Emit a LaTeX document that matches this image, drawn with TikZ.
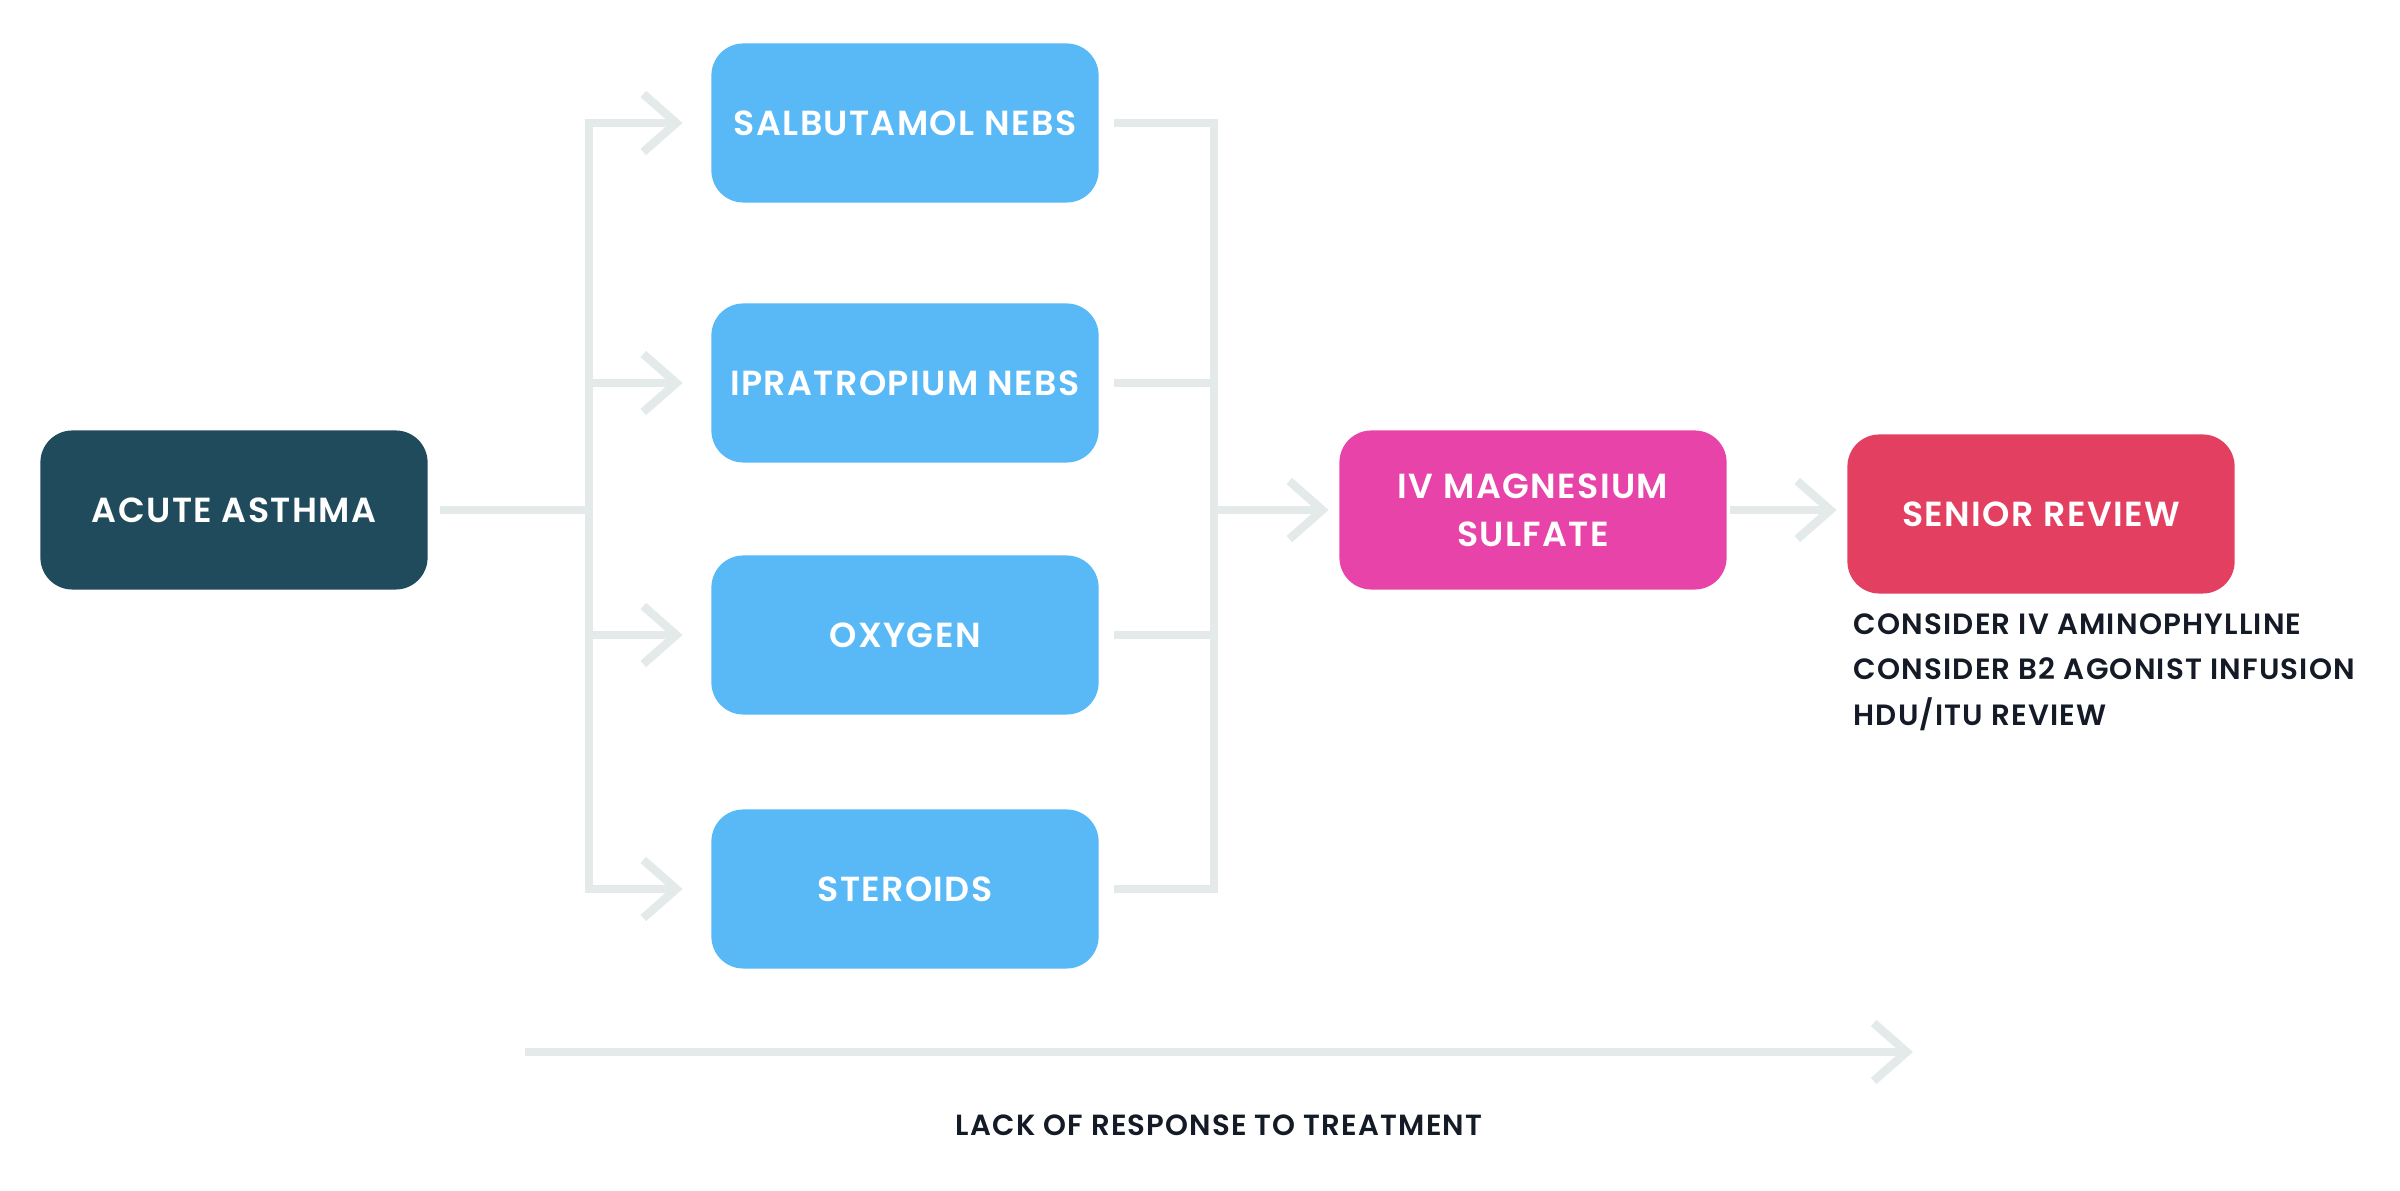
\documentclass[tikz,border=0pt]{standalone}
\usepackage{fontspec}
\setmainfont{Poppins}[LetterSpace=4, BoldFont={* SemiBold}]
\usepackage{tikz}
\usetikzlibrary{arrows.meta}
\definecolor{mydarkteal}{RGB}{31,75,92}
\definecolor{mylightblue}{RGB}{88,185,246}
\definecolor{mymagenta}{RGB}{232,67,169}
\definecolor{mydarkred}{RGB}{227,63,97}
\definecolor{mylinegray}{RGB}{228,234,234}
\definecolor{mydarktext}{RGB}{20,27,38}
\newcommand{\widthbox}{3.87cm}
\newcommand{\heightbox}{1.59cm}
\newcommand{\widthlink}{2.4pt}
\tikzset{
    box/.style={rectangle, rounded corners=0.32cm, minimum width=\widthbox, minimum height=\heightbox,
        inner sep=0pt, align=center, text=white, font=\bfseries\fontsize{9.9}{13.6}\selectfont},
    start/.style={box, fill=mydarkteal},
    drug/.style={box, fill=mylightblue},
    escalate/.style={box, fill=mymagenta},
    review/.style={box, fill=mydarkred},
    note/.style={anchor=west, inner sep=0pt, text=mydarktext, font=\bfseries\fontsize{8.35}{10}\selectfont},
    link/.style={draw=mylinegray, line width=\widthlink},
    bus/.style={link, line cap=rect},
    flow/.style={link, -{Straight Barb[length=3.3mm, width=5.8mm]}}
}

\begin{document}
\begin{tikzpicture}[x=0.01cm, y=0.01cm]
    \useasboundingbox (0,0) rectangle (2400,1191);

    \path
        (234,681) node[start] (asthma) {ACUTE ASTHMA};

    \path
        (905,1068) node[drug] (salbutamol) {SALBUTAMOL NEBS}
        to ++(270:260) node[drug] (ipratropium) {IPRATROPIUM NEBS}
        to ++(270:252) node[drug] (oxygen) {OXYGEN}
        to ++(270:254) node[drug] (steroids) {STEROIDS};

    \path
        (1533,681) node[escalate] (magnesium) {IV MAGNESIUM\\SULFATE}
        to ++(508,-4) node[review] (senior) {SENIOR REVIEW}
        to ++(-188,-110) node[note] (aminophylline) {CONSIDER IV AMINOPHYLLINE}
        to ++(270:45) node[note] (agonist) {CONSIDER B2 AGONIST INFUSION}
        to ++(270:45) node[note] (hdu) {HDU/ITU REVIEW};

    \coordinate (split-top) at (589,1068);
    \coordinate (split-bottom) at (589,302);
    \coordinate (join-top) at (1214,1068);
    \coordinate (join-bottom) at (1214,302);
    \coordinate (response-start) at (525,139);
    \coordinate (response-end) at (1913,139);

    % fan out to the first line treatments
    \draw[link, shorten <=0.12cm] (asthma.east) -- (asthma -| split-top);
    \draw[bus] (split-top) -- (split-bottom);
    \foreach \drug in {salbutamol, ipratropium, oxygen, steroids}
        \draw[flow, shorten >=0.28cm] (\drug -| split-top) -- (\drug.west);

    % gather back in
    \foreach \drug in {salbutamol, ipratropium, oxygen, steroids}
        \draw[link, shorten <=0.15cm] (\drug.east) -- (\drug -| join-top);
    \draw[bus] (join-top) -- (join-bottom);
    \draw[flow, shorten >=0.1cm] (magnesium -| join-top) -- (magnesium.west);
    \draw[flow, shorten <=0.03cm, shorten >=0.1cm] (magnesium.east) -- (magnesium.east -| senior.west);

    \draw[flow] (response-start) -- node[yshift=-0.73cm, text=mydarktext, font=\bfseries\fontsize{8.3}{10}\selectfont]
        (response-label) {LACK OF RESPONSE TO TREATMENT} (response-end);
\end{tikzpicture}
\end{document}
